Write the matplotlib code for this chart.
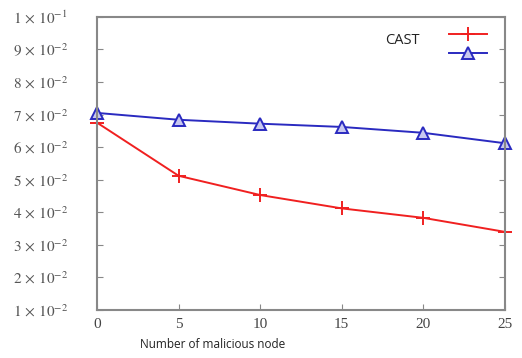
import matplotlib
matplotlib.use("Agg")
import matplotlib.pyplot as plt

nodes = [0, 5, 10, 15, 20, 25]
cast = [0.0675, 0.0512, 0.0453, 0.0412, 0.0383, 0.0340]
other = [0.0705, 0.0684, 0.0672, 0.0662, 0.0644, 0.0612]

y_ticks = [0.01, 0.02, 0.03, 0.04, 0.05, 0.06, 0.07, 0.08, 0.09, 0.10]
y_labels = [r'$1\,\times\,10^{-2}$', r'$2\,\times\,10^{-2}$', r'$3\,\times\,10^{-2}$',
            r'$4\,\times\,10^{-2}$', r'$5\,\times\,10^{-2}$', r'$6\,\times\,10^{-2}$',
            r'$7\,\times\,10^{-2}$', r'$8\,\times\,10^{-2}$', r'$9\,\times\,10^{-2}$',
            r'$1\,\times\,10^{-1}$']

plt.rcParams['mathtext.fontset'] = 'stix'
plt.rcParams['font.family'] = 'DejaVu Serif'

fig = plt.figure(figsize=(5.22, 3.58), dpi=100)
ax = fig.add_axes([0.186, 0.134, 0.781, 0.819])

red_line, = ax.plot(nodes, cast, color='#f02020', lw=1.4, marker='+',
                    markersize=10, markeredgewidth=1.4, clip_on=False)
blue_line, = ax.plot(nodes, other, color='#2a2ac0', lw=1.4, marker='^',
                     markersize=9, markerfacecolor='#c8c8f0',
                     markeredgecolor='#2a2ac0', markeredgewidth=1.4,
                     clip_on=False)

ax.set_xlim(0, 25)
ax.set_ylim(0.01, 0.10)
ax.set_xticks(nodes)
ax.set_xticklabels([str(n) for n in nodes], fontsize=11, color='#444444',
                   family='Liberation Serif')
ax.set_yticks(y_ticks)
ax.set_yticklabels(y_labels, fontsize=11, color='#555555')

ax.tick_params(axis='both', direction='in', length=4, color='#888888',
               right=True, top=False)
ax.tick_params(axis='x', pad=6)
ax.tick_params(axis='y', pad=21)
for s in ax.spines.values():
    s.set_color('#888888')
    s.set_linewidth(1.5)

leg = ax.legend([red_line, blue_line], ['', ''], loc='upper right',
                bbox_to_anchor=(0.97, 0.98), frameon=False, handlelength=2.7,
                handletextpad=0.0, labelspacing=0.35, borderaxespad=0)
fig.text(385 / 522, 1 - 40 / 358, 'CAST', fontsize=10.5, family='Open Sans',
         va='center', ha='left', color='#222222')

fig.text(140 / 522, 1 - 345 / 358, 'Number of malicious node', fontsize=8.5,
         family='Open Sans', va='center', ha='left', color='#222222')

fig.savefig('out.png', dpi=100)
